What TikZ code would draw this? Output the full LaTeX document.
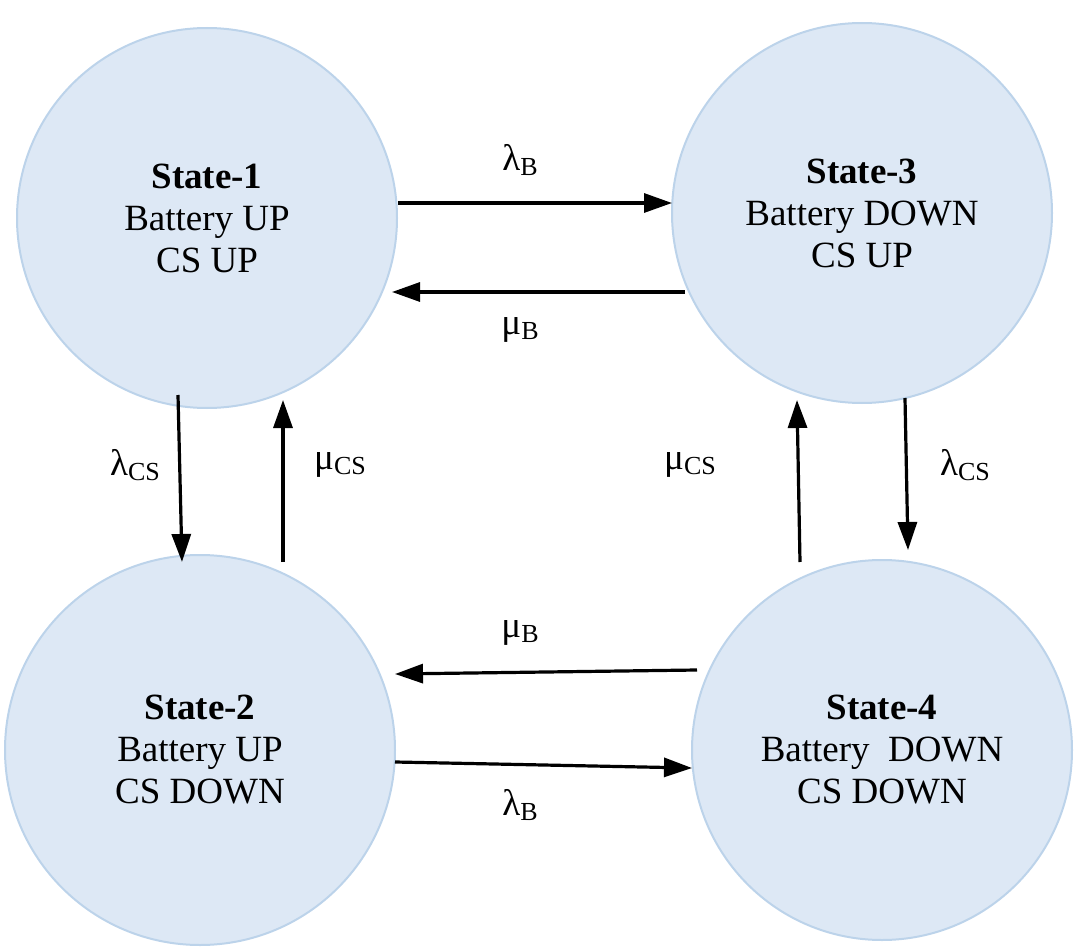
\documentclass[tikz,border=0pt]{standalone}
\usepackage{fontspec}
\setmainfont{Liberation Serif}
\usetikzlibrary{arrows.meta}
\definecolor{cfill}{HTML}{DDE8F5}
\definecolor{cdraw}{HTML}{BCD3EA}
\newcommand{\mysub}[1]{\raisebox{-0.3ex}{\fontsize{26}{30}\selectfont #1}}
\begin{document}
\begin{tikzpicture}[x=1pt,y=-1pt,
  st/.style={circle,fill=cfill,draw=cdraw,line width=2pt,minimum size=380pt,align=center,font=\fontsize{37}{42}\selectfont},
  ar/.style={line width=3.2pt,-{Triangle[length=28pt,width=19pt]}},
  lb/.style={font=\fontsize{37}{42}\selectfont}]
\useasboundingbox (0,0) rectangle (1088,950);
\node[st] (s1) at (207,218) {\textbf{State-1}\\Battery UP\\CS UP};
\node[st] (s3) at (862,213) {\textbf{State-3}\\Battery DOWN\\CS UP};
\node[st,minimum size=390pt] (s2) at (200,750) {\textbf{State-2}\\Battery UP\\CS DOWN};
\node[st] (s4) at (882,750) {\textbf{State-4}\\Battery \ DOWN\\CS DOWN};
\coordinate (a1) at (398,203); \coordinate (b1) at (672,203);
\coordinate (a2) at (685,292); \coordinate (b2) at (392,292);
\coordinate (a3) at (178,395); \coordinate (b3) at (182,562);
\coordinate (a4) at (283,562); \coordinate (b4) at (283,400);
\coordinate (a5) at (905,398); \coordinate (b5) at (908,550);
\coordinate (a6) at (800,562); \coordinate (b6) at (797,400);
\coordinate (a7) at (697,670); \coordinate (b7) at (395,674);
\coordinate (a8) at (395,762); \coordinate (b8) at (692,768);
\draw[ar] (a1) -- (b1); \draw[ar] (a2) -- (b2);
\draw[ar] (a3) -- (b3); \draw[ar] (a4) -- (b4);
\draw[ar] (a5) -- (b5); \draw[ar] (a6) -- (b6);
\draw[ar] (a7) -- (b7); \draw[ar] (a8) -- (b8);
\node[lb] (l1) at (520,160) {λ\mysub{B}};
\node[lb] (l2) at (520,330) {μ\mysub{B}};
\node[lb] (l3) at (135,465) {λ\mysub{CS}};
\node[lb] (l4) at (340,465) {μ\mysub{CS}};
\node[lb] (l5) at (690,465) {μ\mysub{CS}};
\node[lb] (l6) at (965,465) {λ\mysub{CS}};
\node[lb] (l7) at (520,633) {μ\mysub{B}};
\node[lb] (l8) at (520,805) {λ\mysub{B}};
\end{tikzpicture}
\end{document}
